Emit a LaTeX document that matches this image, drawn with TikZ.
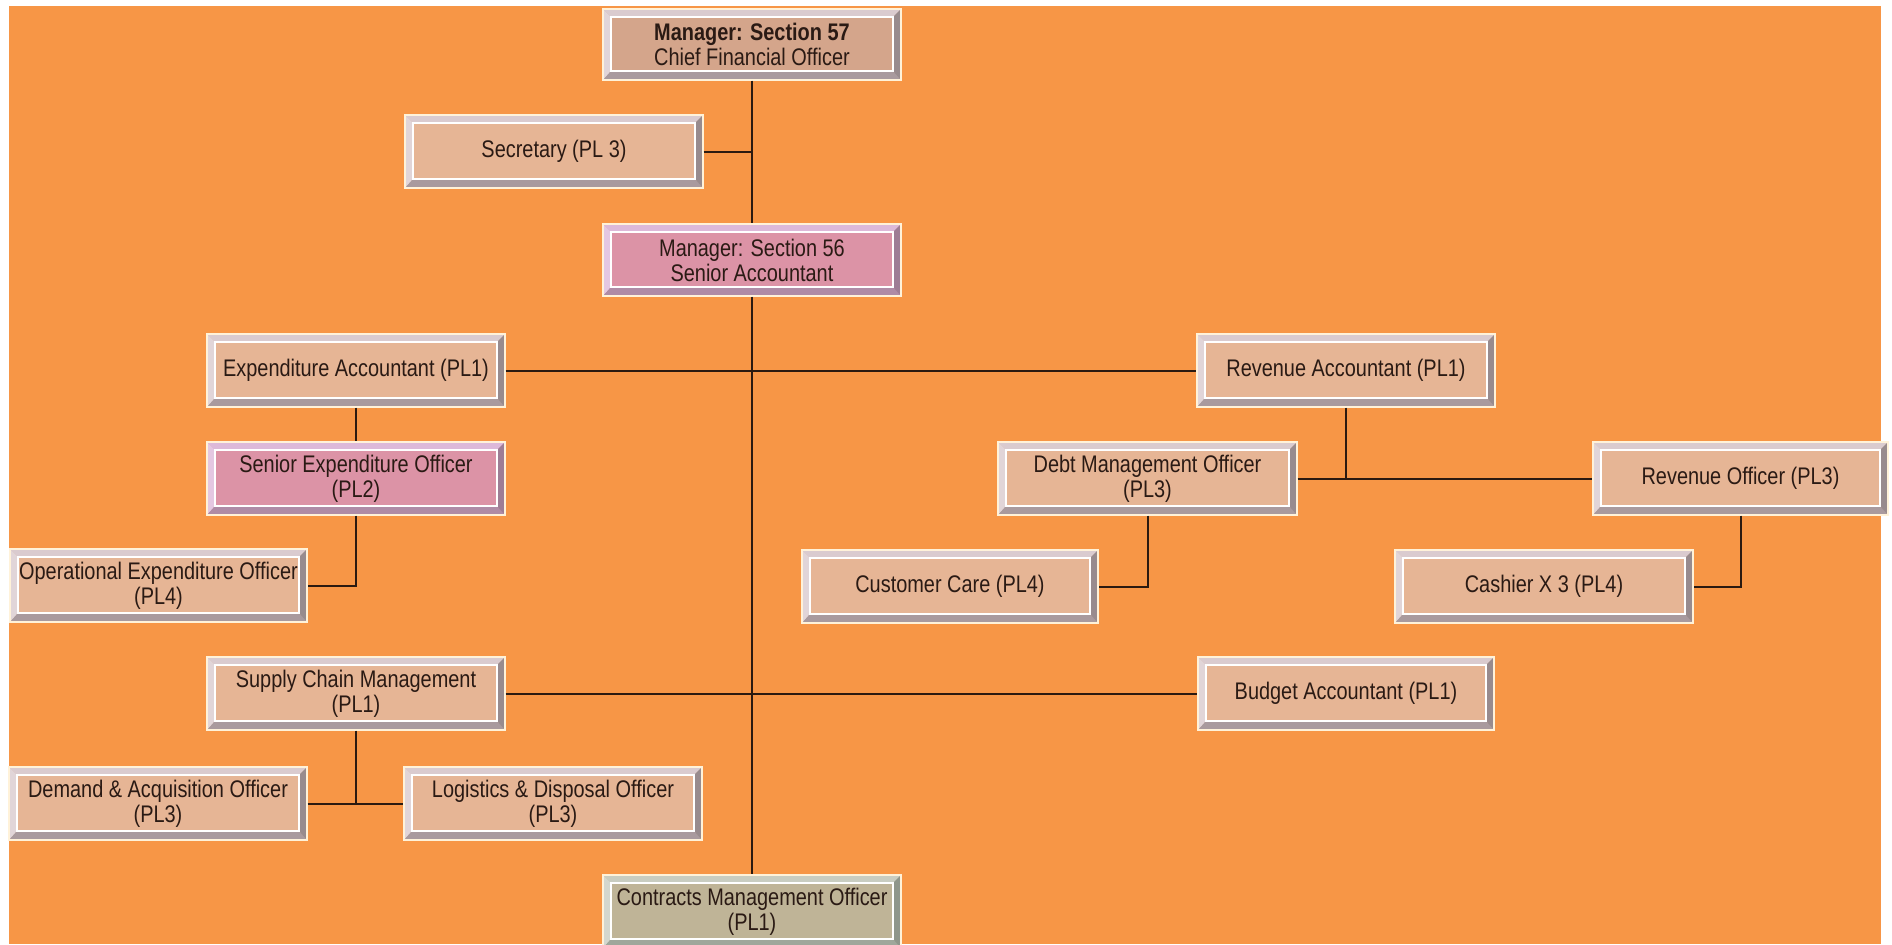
\documentclass[tikz,border=0pt]{standalone}
\usepackage{fontspec}
\setmainfont{Liberation Sans}[FakeStretch=0.83]
\definecolor{bgorange}{HTML}{F79646}
\definecolor{tanfill}{HTML}{E6B595}
\definecolor{topfill}{HTML}{D4A58B}
\definecolor{pinkfill}{HTML}{DC93A6}
\definecolor{olivefill}{HTML}{BFB497}
\definecolor{edgecream}{HTML}{FFF2D9}
\definecolor{linedark}{HTML}{2B1A10}
\definecolor{textdark}{HTML}{2A1A14}
\definecolor{tanbvtop}{HTML}{DACBCF}
\definecolor{tanbvbot}{HTML}{A99A9E}
\definecolor{pinkbvtop}{HTML}{DDB9D9}
\definecolor{pinkbvbot}{HTML}{AF8BA6}
\definecolor{olivebvtop}{HTML}{C9CDC1}
\definecolor{olivebvbot}{HTML}{9FA79B}
\pgfkeys{/tikz/bvtop/.store in=\bvtopc, /tikz/bvbot/.store in=\bvbotc}
\tikzset{
  sz/.style 2 args={minimum width=#1*0.5pt, minimum height=#2*0.5pt},
  orgbox/.style={draw=edgecream, line width=0.6pt, inner sep=0pt, align=center,
    font=\fontsize{12}{12.5}\selectfont, text=textdark, fill=tanfill,
    bvtop=tanbvtop, bvbot=tanbvbot,
    path picture={
      \coordinate (pNW) at (path picture bounding box.north west);
      \coordinate (pNE) at (path picture bounding box.north east);
      \coordinate (pSW) at (path picture bounding box.south west);
      \coordinate (pSE) at (path picture bounding box.south east);
      \fill[\bvtopc] (pNW) -- (pNE) -- ([shift={(-4pt,-4pt)}]pNE) -- ([shift={(4pt,-4pt)}]pNW) -- cycle;
      \fill[\bvtopc!80!white] (pNW) -- (pSW) -- ([shift={(4pt,4.5pt)}]pSW) -- ([shift={(4pt,-4pt)}]pNW) -- cycle;
      \fill[\bvbotc] (pSW) -- (pSE) -- ([shift={(-4pt,4.5pt)}]pSE) -- ([shift={(4pt,4.5pt)}]pSW) -- cycle;
      \fill[\bvbotc!90!black] (pNE) -- (pSE) -- ([shift={(-4pt,4.5pt)}]pSE) -- ([shift={(-4pt,-4pt)}]pNE) -- cycle;
      \draw[white, line width=0.7pt] ([shift={(4pt,-4pt)}]pNW) rectangle ([shift={(-4pt,4.5pt)}]pSE);
    }},
  pinkbox/.style={orgbox, fill=pinkfill, bvtop=pinkbvtop, bvbot=pinkbvbot},
  topbox/.style={orgbox, fill=topfill},
  olivebox/.style={orgbox, fill=olivefill, bvtop=olivebvtop, bvbot=olivebvbot},
  conn/.style={draw=linedark, line width=1pt}
}
\begin{document}
\begin{tikzpicture}[x=0.5pt, y=-0.5pt]
\useasboundingbox (0,0) rectangle (1892,944);
\fill[white] (0,0) rectangle (1892,944);
\fill[bgorange] (9,6) rectangle (1881,944);

\node[topbox, sz={298}{71}] (m57) at (752,44.5) {\textbf{Manager: Section 57}\\Chief Financial Officer};
\node[orgbox, sz={298}{73}] (sec) at (554,151.5) {Secretary (PL 3)};
\node[pinkbox, sz={298}{72}] (m56) at (752,260) {Manager: Section 56\\Senior Accountant};
\node[orgbox, sz={298}{73}] (expacc) at (356,370.5) {Expenditure Accountant (PL1)};
\node[orgbox, sz={298}{73}] (revacc) at (1346,370.5) {Revenue Accountant (PL1)};
\node[pinkbox, sz={298}{73}] (seo) at (356,478.5) {Senior Expenditure Officer\\(PL2)};
\node[orgbox, sz={299}{73}] (debt) at (1147.5,478.5) {Debt Management Officer\\(PL3)};
\node[orgbox, sz={295}{73}] (revoff) at (1740.5,478.5) {Revenue Officer (PL3)};
\node[orgbox, sz={297}{73}] (oeo) at (158.5,585.5) {Operational Expenditure Officer\\(PL4)};
\node[orgbox, sz={296}{73}] (cc) at (950,586.5) {Customer Care (PL4)};
\node[orgbox, sz={298}{73}] (cash) at (1544,586.5) {Cashier X 3 (PL4)};
\node[orgbox, sz={298}{73}] (scm) at (356,693.5) {Supply Chain Management\\(PL1)};
\node[orgbox, sz={296}{73}] (budget) at (1346,693.5) {Budget Accountant (PL1)};
\node[orgbox, sz={298}{73}] (demand) at (158,803.5) {Demand \& Acquisition Officer\\(PL3)};
\node[orgbox, sz={298}{73}] (logis) at (553,803.5) {Logistics \& Disposal Officer\\(PL3)};
\node[olivebox, sz={298}{73}] (contr) at (752,911.5) {Contracts Management Officer\\(PL1)};

\draw[conn] (m57.south) -- (m56.north);
\draw[conn] (m56.south) -- (contr.north);
\draw[conn] (sec.east) -- (sec.east -| m57.south);
\draw[conn] (expacc.east) -- (revacc.west);
\draw[conn] (scm.east) -- (budget.west);
\draw[conn] (expacc.south) -- (seo.north);
\draw[conn] (seo.south) |- (oeo.east);
\coordinate (rj) at (revacc.south |- debt.east);
\draw[conn] (revacc.south) -- (rj);
\draw[conn] (debt.east) -- (revoff.west);
\draw[conn] (debt.south) |- (cc.east);
\draw[conn] (revoff.south) |- (cash.east);
\coordinate (sj) at (scm.south |- demand.east);
\draw[conn] (scm.south) -- (sj);
\draw[conn] (demand.east) -- (logis.west);
\end{tikzpicture}
\end{document}
